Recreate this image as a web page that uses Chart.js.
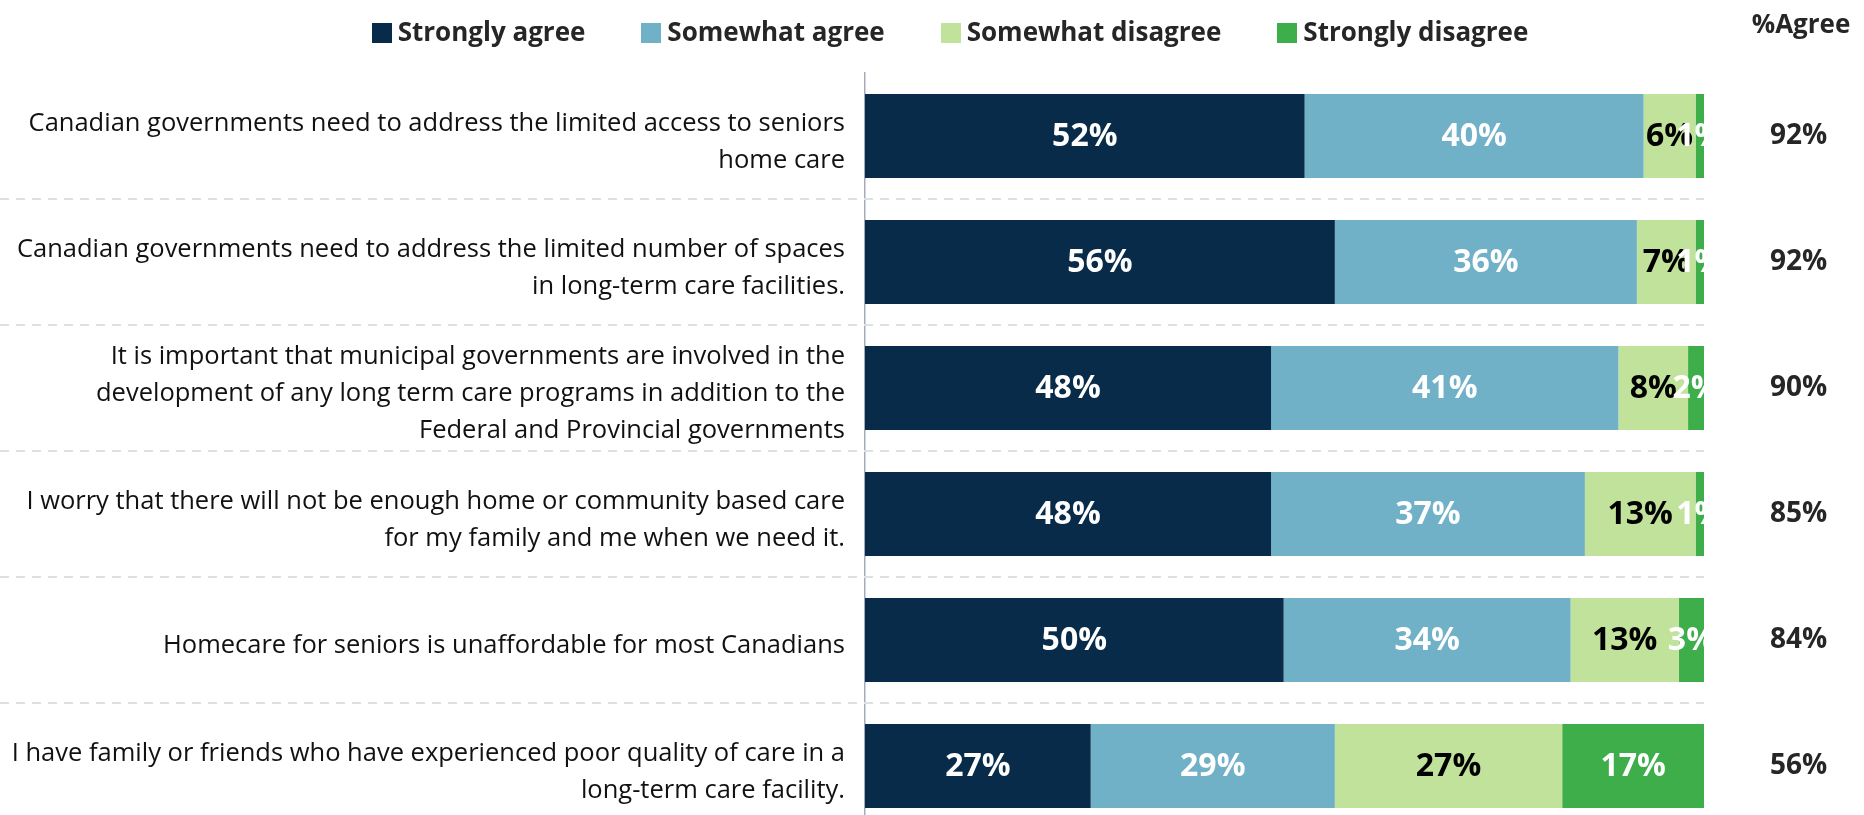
<!DOCTYPE html>
<html>
<head>
<meta charset="utf-8">
<title>Long-term care attitudes</title>
<script src="https://cdn.jsdelivr.net/npm/chart.js@4.4.1/dist/chart.umd.min.js"></script>
<style>
  html, body { margin: 0; padding: 0; background: #ffffff; }
  #wrap { width: 1864px; height: 815px; overflow: hidden; }
  canvas { display: block; }
</style>
</head>
<body>
<div id="wrap"><canvas id="chart" width="1864" height="829"></canvas></div>
<script>
// statements (category labels, already broken into lines like the original)
const statements = [
  ["Canadian governments need to address the limited access to seniors", "home care"],
  ["Canadian governments need to address the limited number of spaces", "in long-term care facilities."],
  ["It is important that municipal governments are involved in the", "development of any long term care programs in addition to the", "Federal and Provincial governments"],
  ["I worry that there will not be enough home or community based care", "for my family and me when we need it."],
  "Homecare for seniors is unaffordable for most Canadians",
  ["I have family or friends who have experienced poor quality of care in a", "long-term care facility."]
];

const seriesNames = ["Strongly agree", "Somewhat agree", "Somewhat disagree", "Strongly disagree"];

// shares in %
const stronglyAgree    = [52.4, 56.0, 48.4, 48.4, 49.9, 26.9];
const somewhatAgree    = [40.4, 36.0, 41.4, 37.4, 34.2, 29.1];
const somewhatDisagree = [6.2, 7.0, 8.3, 13.2, 12.9, 27.1];
const stronglyDisagree = [1.0, 1.0, 1.9, 1.0, 3.0, 16.9];

// right hand column
const agreeHeader = "%Agree";
const agreeTotals = ["92%", "92%", "90%", "85%", "84%", "56%"];

const seriesColors = ["#072B48", "#71B1C8", "#C0E29A", "#3DAE4A"];
const valueColors = ["#ffffff", "#ffffff", "#000000", "#ffffff"];
const FONT = "'Open Sans', 'Noto Sans', sans-serif";

// long labels must not shrink the plot area
function noPad(scale) {
  scale.paddingTop = 0;
  scale.paddingBottom = 0;
}

const separators = {
  id: "separators",
  beforeDatasetsDraw(chart) {
    const y = chart.scales.y;
    const ctx = chart.ctx;
    ctx.save();
    ctx.strokeStyle = "#e0e0e0";
    ctx.lineWidth = 2;
    ctx.setLineDash([9, 7]);
    for (let i = 0; i < y.ticks.length - 1; i++) {
      const py = Math.round((y.getPixelForTick(i) + y.getPixelForTick(i + 1)) / 2);
      ctx.beginPath();
      ctx.moveTo(0, py);
      ctx.lineTo(chart.chartArea.right, py);
      ctx.stroke();
    }
    ctx.restore();
  }
};

const valueLabels = {
  id: "valueLabels",
  afterDatasetsDraw(chart) {
    const ctx = chart.ctx;
    const area = chart.chartArea;
    ctx.save();
    ctx.beginPath();
    ctx.rect(area.left, area.top, area.right - area.left, area.bottom - area.top);
    ctx.clip();
    ctx.font = "bold 32px " + FONT;
    ctx.textAlign = "center";
    ctx.textBaseline = "middle";
    chart.data.datasets.forEach((ds, di) => {
      chart.getDatasetMeta(di).data.forEach((bar, i) => {
        ctx.fillStyle = valueColors[di];
        ctx.fillText(Math.round(ds.data[i]) + "%", (bar.x + bar.base) / 2, bar.y + 1);
      });
    });
    ctx.restore();
  }
};

// legend row + column header drawn on top
const topLegend = {
  id: "topLegend",
  afterDraw(chart) {
    const ctx = chart.ctx;
    ctx.save();
    ctx.font = "bold 26px " + FONT;
    ctx.textBaseline = "middle";
    ctx.textAlign = "left";
    const box = 20, gapText = 6, gapItem = 56, cy = 33;
    const items = chart.data.datasets.map(ds => ({
      text: ds.label,
      color: ds.backgroundColor,
      w: ctx.measureText(ds.label).width
    }));
    const total = items.reduce((s, it) => s + box + gapText + it.w, 0) + gapItem * (items.length - 1);
    let x = 950 - total / 2;
    items.forEach(it => {
      ctx.fillStyle = it.color;
      ctx.fillRect(Math.round(x), cy - 10, box, 20);
      ctx.fillStyle = "#262626";
      ctx.fillText(it.text, x + box + gapText, cy + 1);
      x += box + gapText + it.w + gapItem;
    });
    ctx.textAlign = "center";
    ctx.fillText(agreeHeader, 1801, 26);
    ctx.restore();
  }
};

const ctx = document.getElementById("chart").getContext("2d");
const seriesData = [stronglyAgree, somewhatAgree, somewhatDisagree, stronglyDisagree];

new Chart(ctx, {
  type: "bar",
  data: {
    labels: statements,
    datasets: seriesNames.map((name, i) => ({
      label: name,
      data: seriesData[i],
      backgroundColor: seriesColors[i],
      borderWidth: 0,
      categoryPercentage: 1,
      barPercentage: 0.667,
      yAxisID: "y"
    }))
  },
  options: {
    indexAxis: "y",
    responsive: false,
    animation: false,
    devicePixelRatio: 1,
    layout: { padding: { top: 73, left: 0, right: 0, bottom: 0 } },
    plugins: {
      legend: { display: false },
      tooltip: { enabled: false }
    },
    scales: {
      x: {
        stacked: true,
        min: 0,
        max: 100,
        display: false
      },
      y: {
        stacked: true,
        position: "left",
        grid: { display: false, drawTicks: false },
        border: { display: true, color: "#a3abba", width: 1.5 },
        ticks: {
          color: "#111111",
          padding: 20,
          labelOffset: 6,
          font: { family: FONT, size: 25.5, lineHeight: 1.45 }
        },
        afterFit: (scale) => { scale.width = 865; noPad(scale); }
      },
      y2: {
        type: "category",
        labels: agreeTotals,
        position: "right",
        offset: true,
        grid: { display: false, drawTicks: false },
        border: { display: false },
        ticks: {
          color: "#262626",
          crossAlign: "center",
          padding: 66,
          font: { family: FONT, size: 28, weight: "bold" }
        },
        afterFit: (scale) => { scale.width = 160; noPad(scale); }
      }
    }
  },
  plugins: [separators, valueLabels, topLegend]
});
</script>
</body>
</html>
